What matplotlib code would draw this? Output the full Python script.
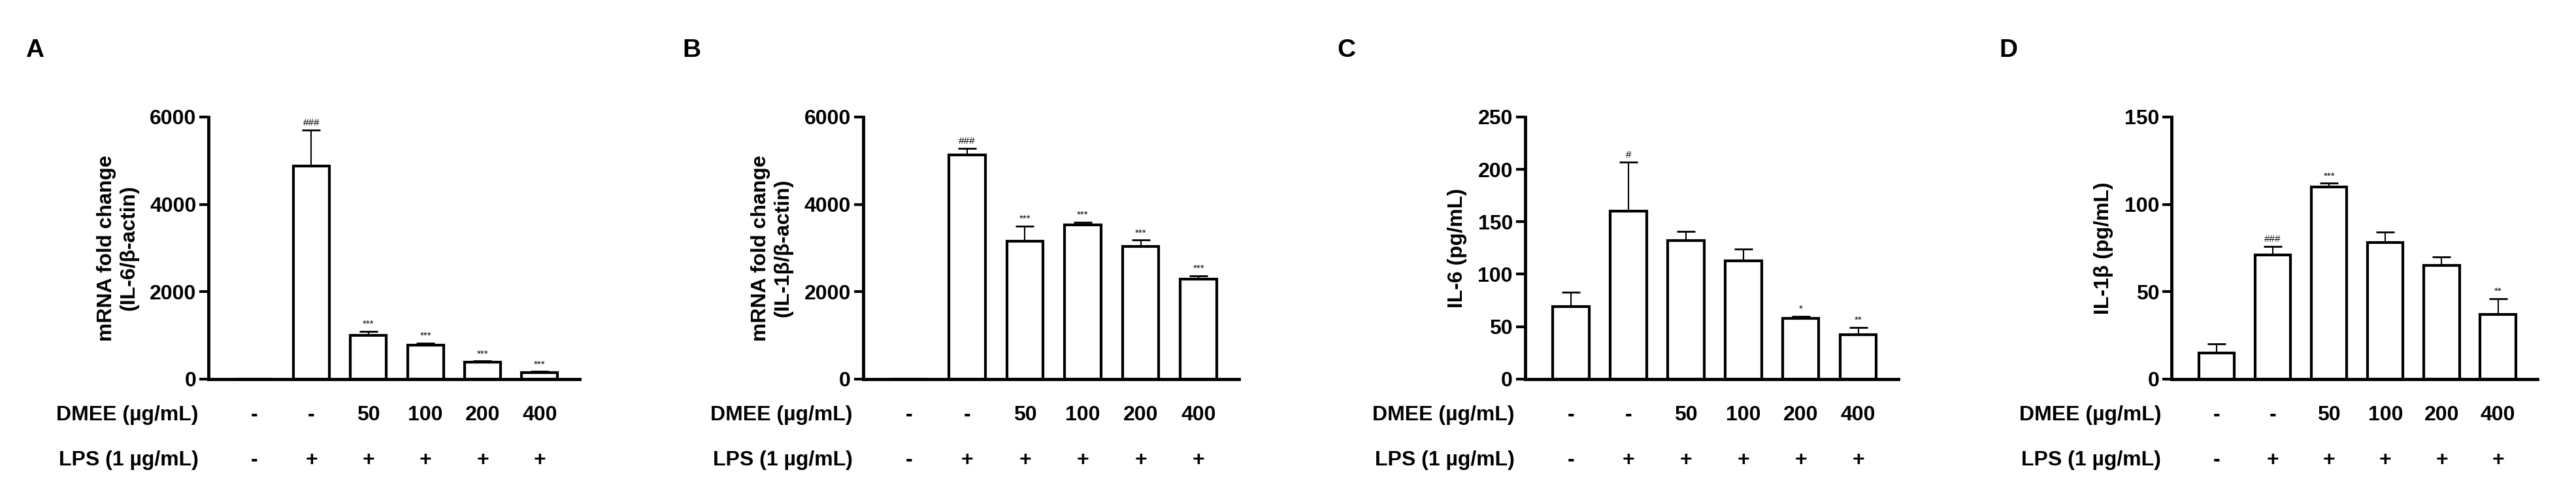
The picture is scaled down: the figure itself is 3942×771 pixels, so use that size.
import matplotlib
matplotlib.use("Agg")
import matplotlib.pyplot as plt

plt.rcParams['font.family'] = ['Liberation Sans', 'DejaVu Sans']
plt.rcParams['font.weight'] = 'bold'

dmee_labels = ['-', '-', '50', '100', '200', '400']
lps_labels = ['-', '+', '+', '+', '+', '+']

a_vals = [0, 4870, 1000, 780, 380, 140]
a_err = [0, 830, 90, 40, 30, 30]
a_sig = ['', '###', '***', '***', '***', '***']

b_vals = [0, 5130, 3150, 3530, 3030, 2280]
b_err = [0, 150, 350, 60, 150, 80]
b_sig = ['', '###', '***', '***', '***', '***']

c_vals = [69, 160, 132, 113, 58, 42]
c_err = [14, 47, 9, 11, 2, 7]
c_sig = ['', '#', '', '', '*', '**']

d_vals = [15, 71, 110, 78, 65, 37]
d_err = [5, 5, 2, 6, 5, 9]
d_sig = ['', '###', '***', '', '', '**']

panels = [
    ('A', a_vals, a_err, a_sig, 'mRNA fold change\n(IL-6/β-actin)', 6000, [0, 2000, 4000, 6000], 0.081, 0.225, 0.010),
    ('B', b_vals, b_err, b_sig, 'mRNA fold change\n(IL-1β/β-actin)', 6000, [0, 2000, 4000, 6000], 0.335, 0.481, 0.265),
    ('C', c_vals, c_err, c_sig, 'IL-6 (pg/mL)', 250, [0, 50, 100, 150, 200, 250], 0.592, 0.737, 0.519),
    ('D', d_vals, d_err, d_sig, 'IL-1β (pg/mL)', 150, [0, 50, 100, 150], 0.843, 0.985, 0.776),
]

fig = plt.figure(figsize=(39.42, 7.71), dpi=100)
for letter, vals, err, sig, ylabel, ymax, ticks, l, r, lx in panels:
    ax = fig.add_axes([l, 0.248, r - l, 0.52])
    x = list(range(len(vals)))
    ax.bar(x, vals, width=0.63, color='white', edgecolor='black', linewidth=3, zorder=2)
    ax.errorbar(x, vals, yerr=[[0]*len(err), err], fmt='none', ecolor='black',
                elinewidth=1.5, capsize=10, capthick=2, zorder=1)
    for xi, v, e, s in zip(x, vals, err, sig):
        if s:
            ax.text(xi, v + e + ymax * 0.01, s, ha='center', va='bottom', fontsize=11, fontweight='normal')
    ax.set_xlim(-0.8, 5.7)
    ax.set_ylim(0, ymax)
    ax.set_yticks(ticks)
    ax.set_xticks([])
    ax.spines['top'].set_visible(False)
    ax.spines['right'].set_visible(False)
    ax.spines['left'].set_linewidth(3.5)
    ax.spines['bottom'].set_linewidth(3.5)
    ax.tick_params(axis='y', width=3, length=10, labelsize=23)
    for t in ax.get_yticklabels():
        t.set_fontweight('bold')
    ax.set_ylabel(ylabel, fontsize=23, fontweight='bold', labelpad=12)
    tr = ax.get_xaxis_transform()
    for xi in x:
        ax.text(xi, -0.137, dmee_labels[xi], ha='center', va='center', fontsize=23, fontweight='bold',
                transform=tr, clip_on=False)
        ax.text(xi, -0.31, lps_labels[xi], ha='center', va='center', fontsize=23, fontweight='bold',
                transform=tr, clip_on=False)
    fig.text(l - 0.004, 0.177, 'DMEE (µg/mL)', ha='right', va='center', fontsize=23, fontweight='bold')
    fig.text(l - 0.004, 0.087, 'LPS (1 µg/mL)', ha='right', va='center', fontsize=23, fontweight='bold')
    fig.text(lx, 0.9, letter, ha='left', va='center', fontsize=28, fontweight='bold')

fig.savefig('out.png', dpi=100)
